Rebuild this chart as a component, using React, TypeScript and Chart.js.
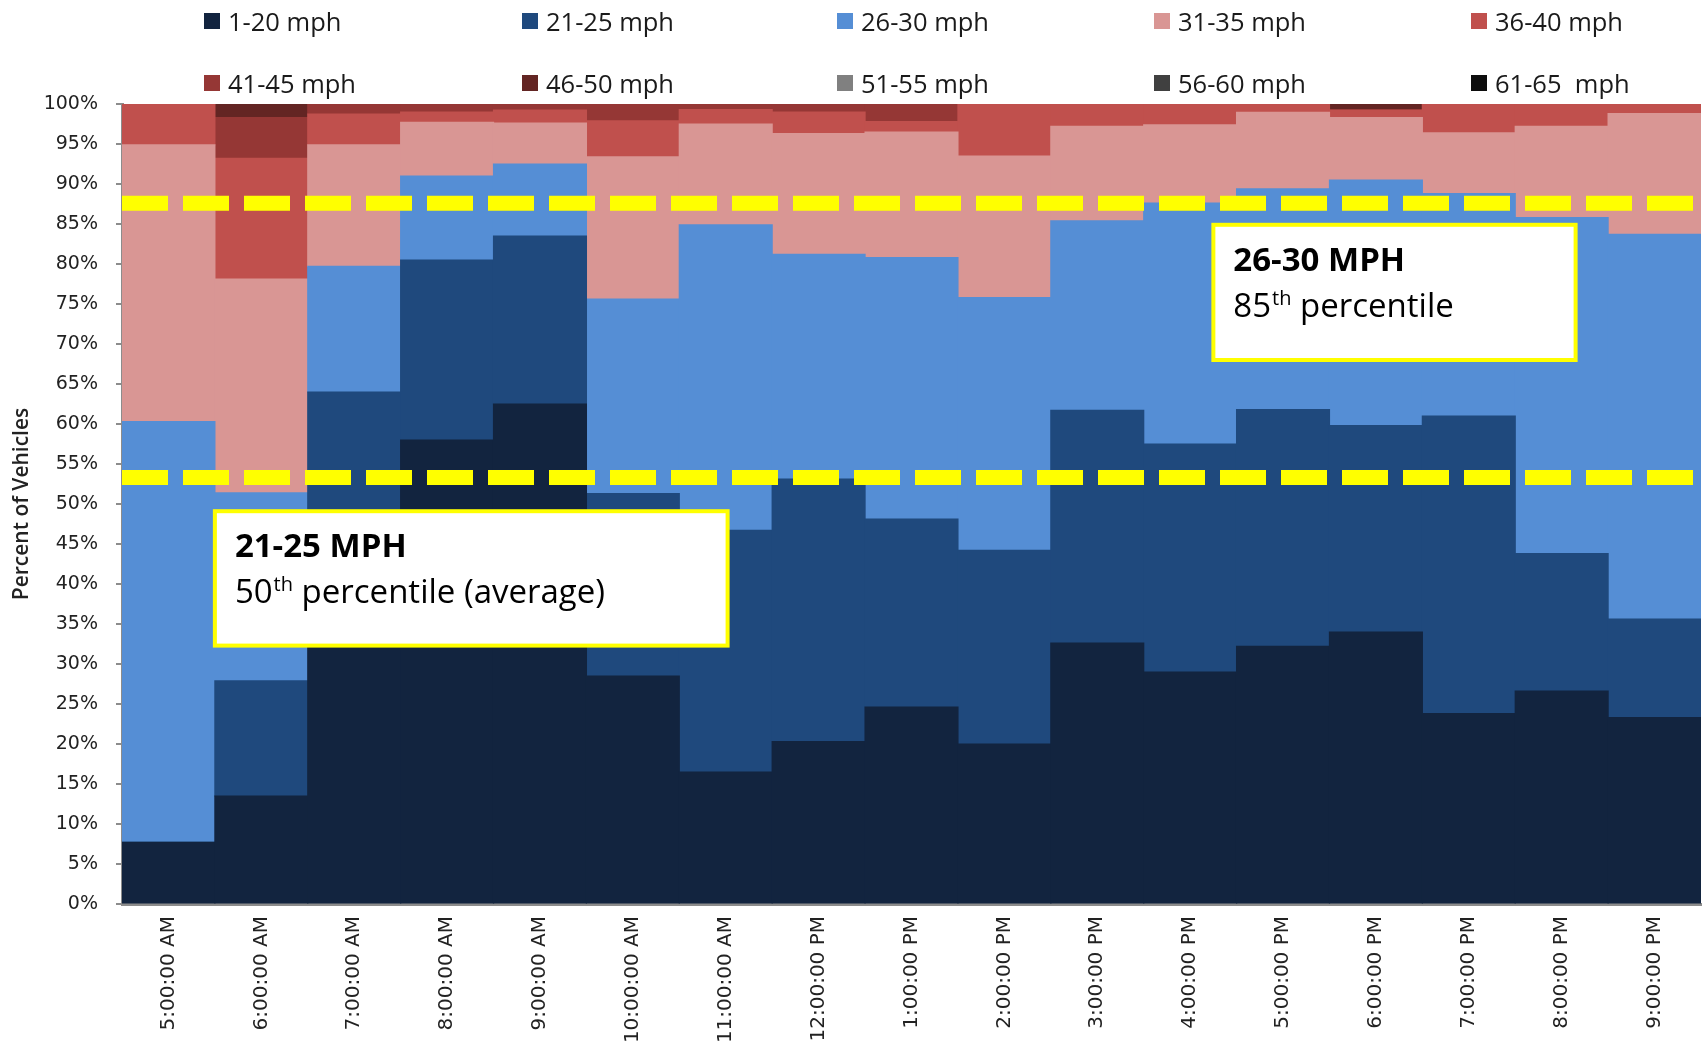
import React, { useEffect, useRef } from "react";
import { Chart, registerables } from "chart.js";

Chart.register(...registerables);

// ---------- data ----------
const categories = [
  "5:00:00 AM", "6:00:00 AM", "7:00:00 AM", "8:00:00 AM", "9:00:00 AM",
  "10:00:00 AM", "11:00:00 AM", "12:00:00 PM", "1:00:00 PM", "2:00:00 PM",
  "3:00:00 PM", "4:00:00 PM", "5:00:00 PM", "6:00:00 PM", "7:00:00 PM",
  "8:00:00 PM", "9:00:00 PM",
];

const seriesNames = [
  "1-20 mph", "21-25 mph", "26-30 mph", "31-35 mph", "36-40 mph",
  "41-45 mph", "46-50 mph", "51-55 mph", "56-60 mph", "61-65  mph",
];

const seriesColors = [
  "#12243F", "#1F497D", "#558ED5", "#D99694", "#C0504D",
  "#953735", "#632523", "#808080", "#404040", "#0D0D0D",
];

const mph1to20 = [7.7, 13.5, 42.0, 58.0, 62.5, 28.5, 16.5, 20.3, 24.6, 20.0, 32.6, 29.0, 32.2, 34.0, 23.8, 26.6, 23.3];
const mph21to25 = [0, 14.4, 22.0, 22.5, 21.0, 22.8, 30.2, 32.8, 23.5, 24.2, 29.1, 28.5, 29.6, 25.8, 37.2, 17.2, 12.3];
const mph26to30 = [52.6, 23.5, 15.7, 10.5, 9.0, 24.3, 38.2, 28.1, 32.7, 31.6, 23.7, 30.1, 27.6, 30.7, 27.8, 42.0, 48.1];
const mph31to35 = [34.6, 26.7, 15.2, 6.7, 5.1, 17.8, 12.6, 15.1, 15.7, 17.7, 11.8, 9.8, 9.55, 7.8, 7.6, 11.4, 15.1];
const mph36to40 = [5.1, 15.1, 3.85, 1.3, 1.65, 4.5, 1.8, 2.7, 1.3, 6.5, 2.8, 2.6, 1.05, 0.95, 3.6, 2.8, 1.2];
const mph41to45 = [0, 5.1, 1.25, 1.0, 0.75, 2.1, 0.7, 1.0, 2.2, 0, 0, 0, 0, 0, 0, 0, 0];
const mph46to50 = [0, 1.7, 0, 0, 0, 0, 0, 0, 0, 0, 0, 0, 0, 0.75, 0, 0, 0];
const mph51to55 = [0, 0, 0, 0, 0, 0, 0, 0, 0, 0, 0, 0, 0, 0, 0, 0, 0];
const mph56to60 = [0, 0, 0, 0, 0, 0, 0, 0, 0, 0, 0, 0, 0, 0, 0, 0, 0];
const mph61to65 = [0, 0, 0, 0, 0, 0, 0, 0, 0, 0, 0, 0, 0, 0, 0, 0, 0];

const seriesValues = [
  mph1to20, mph21to25, mph26to30, mph31to35, mph36to40,
  mph41to45, mph46to50, mph51to55, mph56to60, mph61to65,
];

const yMin = 0;
const yMax = 100;
const yStep = 5;

// percentile reference lines (percent of vehicles)
const percentileLines = [87.6, 53.3];

// annotation call-outs (x in category index units, y in percent)
const callouts = [
  { title: "21-25 MPH", num: "50", sup: "th", rest: " percentile (average)", x0: 0.5, x1: 6.02, yTop: 49.1, yBottom: 32.3 },
  { title: "26-30 MPH", num: "85", sup: "th", rest: " percentile", x0: 11.25, x1: 15.15, yTop: 84.9, yBottom: 68.0 },
];

const legendCols = [204, 522, 837, 1154, 1471];
const legendRows = [21, 83];

const overlayPlugin = {
  id: "overlay",
  afterDatasetsDraw(chart: any) {
    const { ctx, chartArea, scales } = chart;
    const xs = scales.x;
    const ys = scales.y;
    ctx.save();
    // dashed percentile lines
    ctx.strokeStyle = "#FFFF00";
    ctx.lineWidth = 15;
    ctx.setLineDash([46, 15]);
    ctx.lineCap = "butt";
    percentileLines.forEach((v) => {
      const y = ys.getPixelForValue(v);
      ctx.beginPath();
      ctx.moveTo(chartArea.left, y);
      ctx.lineTo(chartArea.right, y);
      ctx.stroke();
    });
    ctx.setLineDash([]);
    // call-out boxes
    callouts.forEach((c) => {
      const left = xs.getPixelForValue(c.x0);
      const right = xs.getPixelForValue(c.x1);
      const top = ys.getPixelForValue(c.yTop);
      const bottom = ys.getPixelForValue(c.yBottom);
      ctx.fillStyle = "#FFFFFF";
      ctx.fillRect(left, top, right - left, bottom - top);
      ctx.strokeStyle = "#FFFF00";
      ctx.lineWidth = 4;
      ctx.strokeRect(left, top, right - left, bottom - top);
      ctx.fillStyle = "#000000";
      ctx.textAlign = "left";
      ctx.textBaseline = "alphabetic";
      const tx = left + 20;
      ctx.font = "bold 33px 'Open Sans', 'Noto Sans', sans-serif";
      ctx.fillText(c.title, tx, top + 46);
      ctx.font = "33px 'Open Sans', 'Noto Sans', sans-serif";
      const by = top + 92;
      ctx.fillText(c.num, tx, by);
      let cx = tx + ctx.measureText(c.num).width;
      ctx.font = "20px 'Open Sans', 'Noto Sans', sans-serif";
      ctx.fillText(c.sup, cx + 1, by - 12);
      cx += ctx.measureText(c.sup).width + 1;
      ctx.font = "33px 'Open Sans', 'Noto Sans', sans-serif";
      ctx.fillText(c.rest, cx, by);
    });
    ctx.restore();
  },
};

export default function App() {
  const canvasRef = useRef<HTMLCanvasElement | null>(null);

  useEffect(() => {
    if (!canvasRef.current) return;
    const chart = new Chart(canvasRef.current, {
      type: "bar",
      data: {
        labels: categories,
        datasets: seriesNames.map((name, i) => ({
          label: name,
          data: seriesValues[i],
          backgroundColor: seriesColors[i],
          borderWidth: 0,
          inflateAmount: 0.6,
          barPercentage: 1,
          categoryPercentage: 1,
        })),
      },
      options: {
        responsive: false,
        animation: false,
        devicePixelRatio: 1,
        layout: { padding: { top: 104, right: 3, left: 0, bottom: 0 } },
        plugins: {
          legend: { display: false },
          tooltip: { enabled: false },
        },
        scales: {
          x: {
            stacked: true,
            offset: true,
            grid: { display: false, drawOnChartArea: false },
            border: { display: true, color: "#8C8C8C", width: 3 },
            ticks: {
              autoSkip: false,
              minRotation: 90,
              maxRotation: 90,
              padding: 4,
              color: "#222222",
              font: { family: "'DejaVu Sans', Verdana, sans-serif", size: 20 },
            },
            afterFit: (s: any) => { s.height = 138; },
          },
          y: {
            stacked: true,
            min: yMin,
            max: yMax,
            grid: { drawOnChartArea: false, drawTicks: true, tickLength: 6, color: "#8C8C8C", lineWidth: 2 },
            border: { display: true, color: "#8C8C8C", width: 3 },
            ticks: {
              stepSize: yStep,
              padding: 18,
              color: "#222222",
              font: { family: "'DejaVu Sans', Verdana, sans-serif", size: 19 },
              callback: (v: any) => `${v}%`,
            },
            title: {
              display: true,
              text: "Percent of Vehicles",
              color: "#222222",
              padding: { top: 9, bottom: 0 },
              font: { family: "'Open Sans', 'Noto Sans', sans-serif", size: 21, weight: "600" },
            },
            afterFit: (s: any) => { s.width = 122; },
          },
        },
      },
      plugins: [overlayPlugin],
    });
    return () => chart.destroy();
  }, []);

  return (
    <div style={{ position: "fixed", left: 0, top: 0, width: 1704, height: 1042, background: "#FFFFFF", overflow: "hidden" }}>
      <canvas ref={canvasRef} width={1704} height={1042} style={{ position: "absolute", left: 0, top: 0, width: 1704, height: 1042 }} />
      {seriesNames.map((name, i) => {
        const col = i % 5;
        const row = Math.floor(i / 5);
        return (
          <div
            key={name}
            style={{
              position: "absolute",
              left: legendCols[col],
              top: legendRows[row] - 18,
              height: 36,
              display: "flex",
              alignItems: "center",
              fontFamily: "'Open Sans', 'Noto Sans', sans-serif",
              fontSize: 25.5,
              color: "#1A1A1A",
              whiteSpace: "pre",
            }}
          >
            <span style={{ display: "inline-block", width: 16, height: 16, background: seriesColors[i], marginRight: 8 }} />
            <span>{name}</span>
          </div>
        );
      })}
    </div>
  );
}
